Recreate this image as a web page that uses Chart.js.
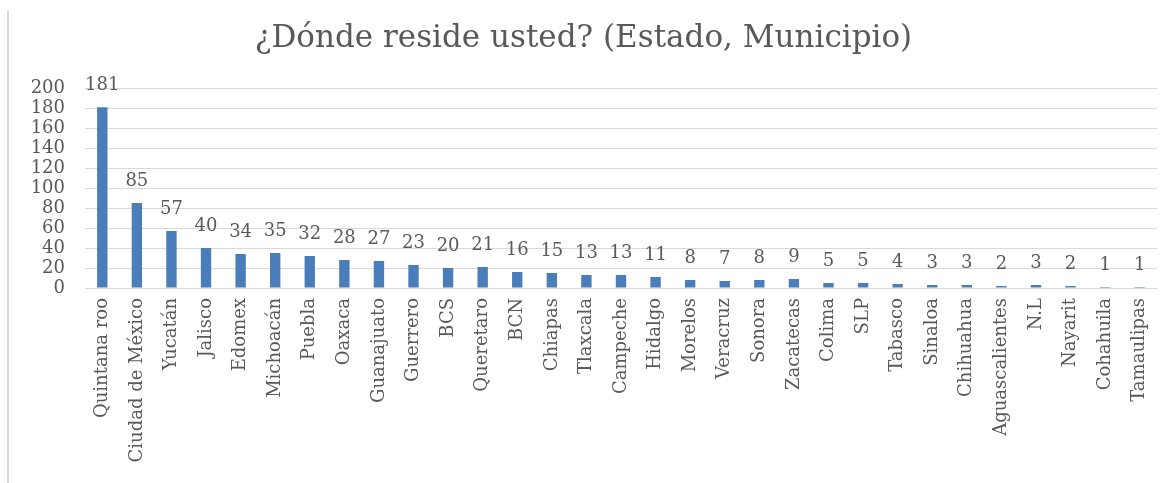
<!DOCTYPE html>
<html><head><meta charset="utf-8">
<script src="https://cdn.jsdelivr.net/npm/chart.js@4"></script>
<style>
html,body{margin:0;padding:0;background:#fff;}
#wrap{position:relative;width:1173px;height:483px;}
#edge{position:absolute;left:7px;top:10px;width:2px;height:473px;background:#d9d9d9;}
</style></head>
<body><div id="wrap"><div id="edge"></div><canvas id="c" width="1173" height="483"></canvas></div>
<script>
const categories = ["Quintana roo","Ciudad de México","Yucatán","Jalisco","Edomex","Michoacán","Puebla","Oaxaca","Guanajuato","Guerrero","BCS","Queretaro","BCN","Chiapas","Tlaxcala","Campeche","Hidalgo","Morelos","Veracruz","Sonora","Zacatecas","Colima","SLP","Tabasco","Sinaloa","Chihuahua","Aguascalientes","N.L","Nayarit","Cohahuila","Tamaulipas"];
const values = [181,85,57,40,34,35,32,28,27,23,20,21,16,15,13,13,11,8,7,8,9,5,5,4,3,3,2,3,2,1,1];
const yTicks = [0,20,40,60,80,100,120,140,160,180,200];
const titleText = "¿Dónde reside usted? (Estado, Municipio)";

const labelPlugin = {
  id:'valueLabels',
  afterDatasetsDraw(chart){
    const ctx = chart.ctx;
    const meta = chart.getDatasetMeta(0);
    ctx.save();
    ctx.font = '18px "DejaVu Serif"';
    ctx.fillStyle = '#595959';
    ctx.textAlign = 'center';
    ctx.textBaseline = 'alphabetic';
    meta.data.forEach((bar,i)=>{
      ctx.fillText(String(values[i]), bar.x, bar.y - 17);
    });
    ctx.restore();
  }
};

new Chart(document.getElementById('c'), {
  type:'bar',
  data:{labels:categories, datasets:[{data:values, backgroundColor:'#4a7ebb', barPercentage:0.3, categoryPercentage:1}]},
  options:{
    responsive:false, animation:false,
    layout:{padding:{left:10,right:16,top:0,bottom:0}},
    plugins:{
      legend:{display:false}, tooltip:{enabled:false},
      title:{display:true, text:titleText, color:'#595959', font:{family:'"DejaVu Serif"', size:31, weight:'normal'}, padding:{top:20,bottom:31}}
    },
    scales:{
      x:{
        grid:{display:false, drawTicks:false},
        border:{display:true, color:'#d9d9d9', width:1},
        ticks:{color:'#595959', font:{family:'"DejaVu Serif"', size:18}, minRotation:90, maxRotation:90, autoSkip:false, padding:10},
        afterFit(s){ s.height = 195; }
      },
      y:{
        min:0, max:200,
        afterBuildTicks(s){ s.ticks = yTicks.map(v=>({value:v})); },
        grid:{color:'#d9d9d9', drawTicks:false},
        border:{display:false},
        ticks:{color:'#595959', font:{family:'"DejaVu Serif"', size:18, lineHeight:1}, padding:20, autoSkip:false},
        afterFit(s){ s.width = 75; }
      }
    }
  },
  plugins:[labelPlugin]
});
</script></body></html>
